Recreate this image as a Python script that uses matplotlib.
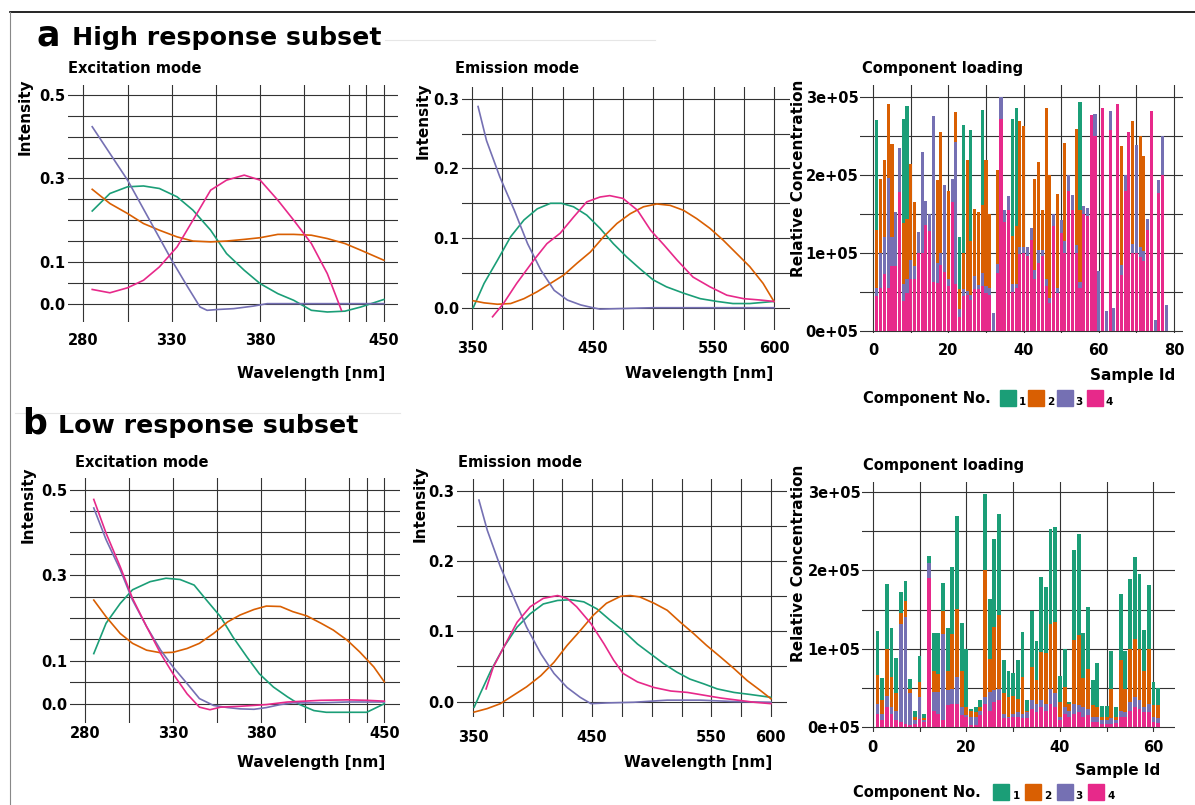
import numpy as np
import matplotlib
matplotlib.use("Agg")
import matplotlib.pyplot as plt
from matplotlib.lines import Line2D
from matplotlib.patches import Rectangle

plt.rcParams['font.family'] = ['DejaVu Sans']
plt.rcParams['font.weight'] = 'bold'

W, H = 1195, 805
colors = ['#1B9E77', '#D95F02', '#7570B3', '#E7298A']

# ---------------- a: high response subset ----------------
# excitation mode
hi_ex_c1_x = [285, 295, 305, 314, 323, 333, 342, 352, 361, 371, 380, 390, 399, 409, 418, 428, 437, 450]
hi_ex_c1_y = [0.222, 0.264, 0.280, 0.282, 0.276, 0.256, 0.224, 0.176, 0.120, 0.080, 0.048, 0.024, 0.008, -0.016, -0.020, -0.018, -0.008, 0.010]
hi_ex_c2_x = [285, 295, 305, 314, 323, 333, 342, 352, 361, 371, 380, 390, 399, 409, 418, 428, 437, 450]
hi_ex_c2_y = [0.274, 0.240, 0.216, 0.192, 0.176, 0.160, 0.150, 0.148, 0.150, 0.154, 0.158, 0.166, 0.166, 0.164, 0.156, 0.144, 0.128, 0.104]
hi_ex_c3_x = [285, 305, 330, 339, 346, 350, 356, 365, 376, 384, 400, 425, 450]
hi_ex_c3_y = [0.424, 0.296, 0.104, 0.040, -0.008, -0.016, -0.014, -0.012, -0.006, 0.000, 0.000, 0.000, 0.000]
hi_ex_c4_x = [285, 295, 305, 314, 323, 333, 342, 352, 361, 371, 380, 390, 399, 409, 418, 426]
hi_ex_c4_y = [0.034, 0.026, 0.038, 0.056, 0.088, 0.136, 0.200, 0.272, 0.296, 0.308, 0.296, 0.248, 0.200, 0.144, 0.072, -0.016]

# emission mode
hi_em_c1_x = [351, 360, 371, 382, 393, 404, 415, 424, 434, 445, 456, 467, 478, 489, 500, 511, 525, 539, 553, 566, 580, 600]
hi_em_c1_y = [0.000, 0.035, 0.068, 0.102, 0.126, 0.142, 0.150, 0.150, 0.145, 0.133, 0.114, 0.092, 0.073, 0.056, 0.040, 0.030, 0.021, 0.013, 0.009, 0.006, 0.006, 0.009]
hi_em_c2_x = [351, 360, 371, 382, 393, 404, 415, 426, 437, 448, 459, 470, 481, 492, 503, 514, 525, 536, 547, 558, 569, 580, 591, 600]
hi_em_c2_y = [0.010, 0.007, 0.005, 0.006, 0.013, 0.023, 0.035, 0.047, 0.064, 0.080, 0.102, 0.121, 0.135, 0.145, 0.149, 0.147, 0.140, 0.128, 0.114, 0.097, 0.078, 0.059, 0.035, 0.009]
hi_em_c3_x = [355, 362, 373, 385, 396, 407, 418, 429, 440, 450, 456, 500, 550, 600]
hi_em_c3_y = [0.289, 0.240, 0.188, 0.140, 0.092, 0.054, 0.025, 0.011, 0.004, 0.000, -0.002, 0.000, 0.000, 0.000]
hi_em_c4_x = [367, 376, 387, 401, 412, 423, 434, 445, 456, 464, 475, 487, 498, 509, 520, 533, 547, 561, 575, 589, 600]
hi_em_c4_y = [-0.013, 0.006, 0.035, 0.068, 0.092, 0.107, 0.130, 0.152, 0.159, 0.161, 0.157, 0.140, 0.111, 0.090, 0.068, 0.044, 0.030, 0.018, 0.013, 0.011, 0.009]

# component loading (x 1e5)
hi_c1 = [1.42, 0, 0, 0, 0, 0, 0, 1.34, 1.46, 0, 0, 0, 0, 0, 0, 0, 0, 0, 0, 0,
         0, 0, 0.67, 1.65, 0, 1.43, 0, 0, 1.22, 0, 0, 0, 0, 0, 0, 0, 1.50, 1.52, 0, 0,
         0, 0, 0, 0, 0, 0, 0, 0, 0, 0, 0, 0, 0, 0, 1.39, 0, 0, 0, 0, 0,
         0, 0, 0, 0, 0, 0, 0, 0, 0, 0, 0, 0, 0, 0, 0, 0, 0, 0]
hi_c2 = [0.74, 0.95, 0.99, 0.96, 1.20, 0, 0, 0.78, 0.77, 1.24, 0.82, 0, 0, 0, 0, 0, 1.07, 1.55, 0, 1.14,
         0, 0.38, 0.25, 0.47, 1.69, 0.69, 0.86, 0.93, 0.88, 1.63, 0.95, 0, 1.21, 0, 0, 0, 0.62, 0.75, 1.62, 1.55,
         0, 0, 1.17, 1.13, 0.51, 2.21, 1.58, 0, 1.21, 0, 1.27, 0, 0, 1.50, 0.93, 0, 0, 0, 0, 0,
         0, 0, 0, 0, 0, 1.52, 0, 0, 1.58, 0, 1.42, 1.23, 0, 0, 0, 0, 0, 0]
hi_c3 = [0.11, 0.45, 0.48, 1.41, 0.37, 0.70, 0.56, 0.22, 0.18, 0.25, 0.17, 0.27, 1.30, 0.31, 0.22, 2.14, 0.26, 0.15, 1.13, 0.09,
         0.30, 1.83, 0.10, 0.09, 0.05, 0.06, 0.17, 0.06, 0.17, 0.09, 0.09, 0.23, 0.12, 0.28, 0.15, 0.18, 0.10, 0.05, 0.10, 0.08,
         0.12, 0.15, 0.12, 0.17, 0.08, 0.09, 0.07, 0.15, 0.07, 0.17, 0.15, 0.20, 0.20, 0.10, 0.07, 0.10, 0.10, 0, 0.29, 0.77,
         0, 0.25, 0.24, 0.29, 0, 0.13, 0.20, 0, 0.12, 1.39, 0.13, 0.12, 0.13, 0, 0.14, 0.17, 0.50, 0.33]
hi_c4 = [0.44, 0.55, 0.73, 0.55, 0.83, 0.83, 1.79, 0.38, 0.48, 0.66, 0.66, 1.00, 1.00, 1.36, 1.28, 0.62, 0.61, 0.85, 0.75, 0.57,
         1.65, 0.60, 0.18, 0.44, 0.46, 0.40, 0.53, 0.53, 0.57, 0.48, 0.46, 0, 0.74, 2.72, 1.40, 1.55, 0.50, 0.55, 0.98, 1.00,
         0.96, 1.17, 0.66, 0.87, 0.96, 0.57, 0.35, 1.35, 0.48, 1.25, 1.00, 1.80, 1.55, 1.00, 0.55, 1.50, 1.48, 2.77, 2.50, 0,
         2.87, 0, 2.58, 0, 2.92, 0.72, 1.80, 2.55, 1.00, 1.00, 0.95, 0.90, 1.30, 2.82, 0, 1.77, 2.00, 0]

# ---------------- b: low response subset ----------------
lo_ex_c1_x = [285, 292, 300, 307, 317, 326, 334, 342, 349, 357, 364, 372, 379, 387, 395, 402, 410, 417, 429, 440, 450]
lo_ex_c1_y = [0.117, 0.188, 0.234, 0.266, 0.285, 0.293, 0.290, 0.277, 0.242, 0.203, 0.156, 0.109, 0.070, 0.039, 0.016, -0.002, -0.016, -0.020, -0.020, -0.020, 0.000]
lo_ex_c2_x = [285, 292, 300, 307, 315, 323, 330, 338, 345, 353, 361, 368, 376, 383, 391, 398, 406, 414, 421, 429, 436, 444, 450]
lo_ex_c2_y = [0.242, 0.203, 0.164, 0.141, 0.125, 0.119, 0.120, 0.129, 0.141, 0.164, 0.191, 0.207, 0.220, 0.228, 0.227, 0.215, 0.205, 0.188, 0.172, 0.148, 0.121, 0.086, 0.051]
lo_ex_c3_x = [285, 292, 300, 307, 315, 323, 330, 338, 345, 353, 361, 368, 376, 383, 391, 398, 414, 429, 450]
lo_ex_c3_y = [0.457, 0.383, 0.313, 0.242, 0.180, 0.125, 0.086, 0.047, 0.012, -0.004, -0.009, -0.012, -0.013, -0.009, -0.002, 0.002, 0.002, 0.004, 0.004]
lo_ex_c4_x = [285, 292, 300, 307, 315, 323, 330, 338, 345, 351, 357, 368, 383, 395, 414, 429, 440, 450]
lo_ex_c4_y = [0.477, 0.398, 0.320, 0.246, 0.180, 0.117, 0.070, 0.023, -0.008, -0.014, -0.008, -0.006, -0.002, 0.004, 0.008, 0.009, 0.008, 0.006]

lo_em_c1_x = [351, 356, 365, 376, 387, 398, 409, 421, 432, 443, 454, 465, 476, 488, 499, 510, 521, 532, 544, 555, 569, 583, 600]
lo_em_c1_y = [-0.008, 0.011, 0.044, 0.078, 0.106, 0.125, 0.139, 0.144, 0.145, 0.142, 0.132, 0.116, 0.101, 0.082, 0.068, 0.054, 0.042, 0.032, 0.025, 0.018, 0.013, 0.010, 0.006]
lo_em_c2_x = [351, 362, 373, 384, 395, 407, 418, 429, 440, 451, 462, 474, 482, 490, 502, 513, 524, 535, 546, 558, 569, 580, 591, 600]
lo_em_c2_y = [-0.015, -0.010, -0.003, 0.009, 0.021, 0.037, 0.056, 0.080, 0.101, 0.123, 0.140, 0.150, 0.151, 0.149, 0.140, 0.130, 0.113, 0.097, 0.080, 0.063, 0.047, 0.030, 0.016, 0.004]
lo_em_c3_x = [355, 362, 373, 384, 395, 407, 418, 429, 440, 449, 462, 485, 513, 541, 569, 600]
lo_em_c3_y = [0.287, 0.244, 0.192, 0.149, 0.106, 0.068, 0.040, 0.020, 0.006, -0.003, -0.002, -0.001, 0.002, 0.002, 0.000, -0.001]
lo_em_c4_x = [361, 367, 376, 387, 398, 409, 421, 429, 437, 449, 460, 468, 476, 488, 502, 516, 530, 544, 558, 572, 586, 600]
lo_em_c4_y = [0.018, 0.049, 0.078, 0.113, 0.135, 0.147, 0.151, 0.147, 0.135, 0.111, 0.082, 0.059, 0.040, 0.028, 0.020, 0.015, 0.013, 0.009, 0.005, 0.002, -0.001, -0.003]

lo_c1 = [0.56, 0.28, 0.83, 0.62, 0.45, 0.27, 0.25, 0.13, 0.08, 0.34, 0.04, 0.09, 0.48, 0.52, 0.36, 0.54, 0.86, 1.18, 0.61, 0.74,
         0.02, 0.07, 0.09, 0.98, 0.77, 1.12, 1.29, 0.42, 0.34, 0.29, 0.49, 0.57, 0.13, 0.71, 0.50, 0.95, 0.85, 1.21, 1.22, 0.33,
         0.49, 0.02, 1.15, 1.30, 0.58, 0.79, 0.32, 0.56, 0.14, 0.14, 0.48, 0.13, 0.85, 0.48, 0.89, 1.05, 0.96, 0.52, 0.82, 0.29, 0.22]
lo_c2 = [0.37, 0.17, 0.60, 0.38, 0.22, 0.13, 0.20, 0.05, 0.04, 0.19, 0.03, 0, 0.27, 0.23, 0.29, 0.25, 0.70, 0.87, 0.46, 0.11,
         0.08, 0.06, 0.05, 1.62, 0.42, 0.81, 0.94, 0.26, 0.25, 0.23, 0.17, 0.47, 0.02, 0.43, 0.30, 0.62, 0.64, 0.83, 0.91, 0.19,
         0.25, 0.09, 0.81, 0.89, 0.36, 0.51, 0.15, 0.13, 0.04, 0.04, 0.38, 0.04, 0.64, 0.30, 0.68, 0.74, 0.66, 0.46, 0.70, 0.15, 0.17]
lo_c3 = [0.12, 0.08, 0.15, 0.09, 0.12, 1.26, 1.37, 0.41, 0.05, 0.28, 0.03, 0.20, 0.24, 0.28, 1.10, 0.19, 0.19, 0.34, 0.11, 0.02,
         0.11, 0.11, 0.06, 0.08, 0.24, 0.15, 0.15, 0.06, 0.02, 0.04, 0.06, 0.06, 0.08, 0.11, 0.11, 0.08, 0.09, 0.19, 0.17, 0.04,
         0.09, 0.08, 0.13, 0.09, 0.13, 0.08, 0.07, 0.07, 0.05, 0.05, 0.07, 0.04, 0.08, 0.06, 0.11, 0.12, 0.11, 0.07, 0.11, 0.07, 0.06]
lo_c4 = [0.17, 0.09, 0.25, 0.17, 0.09, 0.06, 0.04, 0.02, 0.04, 0.10, 0.06, 1.90, 0.21, 0.17, 0.09, 0.28, 0.30, 0.30, 0.15, 0.13,
         0.02, 0.02, 0.15, 0.30, 0.21, 0.32, 0.34, 0.11, 0.11, 0.13, 0.13, 0.11, 0.11, 0.23, 0.19, 0.26, 0.21, 0.30, 0.26, 0.09,
         0.17, 0.13, 0.17, 0.19, 0.13, 0.15, 0.06, 0.06, 0.04, 0.04, 0.04, 0.05, 0.13, 0.13, 0.21, 0.26, 0.23, 0.19, 0.19, 0.06, 0.05]

ex_grid_x = [280, 305, 330, 355, 380, 405, 430, 440, 450]
ex_ticks_x = [280, 330, 380, 450]
ex_ticks_y = [0.0, 0.1, 0.3, 0.5]
em_ticks_x = [350, 450, 550, 600]
em_ticks_y = [0.0, 0.1, 0.2, 0.3]
bar_ticks_y = [0, 1, 2, 3]
bar_labels_y = ['0e+05', '1e+05', '2e+05', '3e+05']

fig = plt.figure(figsize=(W / 100, H / 100), dpi=100)


def ax_at(x0, y0, x1, y1):
    return fig.add_axes([x0 / W, 1 - y1 / H, (x1 - x0) / W, (y1 - y0) / H])


def txt(x, y, s, **kw):
    kw.setdefault('fontweight', 'bold')
    fig.text(x / W, 1 - y / H, s, **kw)


def style(ax, xpad, ypad):
    for s in ax.spines.values():
        s.set_visible(False)
    ax.tick_params(which='both', length=0, labelsize=10.5)
    ax.tick_params(axis='x', pad=xpad)
    ax.tick_params(axis='y', pad=ypad)
    ax.grid(which='both', color='#333333', lw=0.8, zorder=0)
    ax.set_axisbelow(True)
    for lab in ax.get_xticklabels() + ax.get_yticklabels():
        lab.set_fontweight('bold')


def excitation(ax, xs, ys, xlim, ylim, xpad):
    for x, y, c in zip(xs, ys, colors):
        ax.plot(x, y, color=c, lw=1.2, zorder=3)
    ax.set_xlim(*xlim)
    ax.set_ylim(*ylim)
    ax.set_xticks(ex_grid_x, minor=True)
    ax.set_xticks(ex_ticks_x)
    ax.set_yticks(np.arange(0, 0.51, 0.05), minor=True)
    ax.set_yticks(ex_ticks_y)
    ax.set_yticklabels(['0.0', '0.1', '0.3', '0.5'])
    style(ax, xpad, 2)


def emission(ax, xs, ys, xlim, ylim, xpad):
    for x, y, c in zip(xs, ys, colors):
        ax.plot(x, y, color=c, lw=1.2, zorder=3)
    ax.set_xlim(*xlim)
    ax.set_ylim(*ylim)
    ax.set_xticks(np.arange(350, 601, 25), minor=True)
    ax.set_xticks(em_ticks_x)
    ax.set_yticks(np.arange(0, 0.31, 0.05), minor=True)
    ax.set_yticks(em_ticks_y)
    ax.set_yticklabels(['0.0', '0.1', '0.2', '0.3'])
    style(ax, xpad, 2)


def loading(ax, comps, xlim, ylim, xticks, xgrid, xpad):
    ids = np.arange(1, len(comps[0]) + 1)
    bottom = np.zeros(len(ids))
    # stack: component 4 at the bottom, component 1 on top
    for vals, c in zip(comps[::-1], colors[::-1]):
        ax.bar(ids, vals, bottom=bottom, width=0.82, color=c, lw=0, zorder=3)
        bottom = bottom + np.array(vals)
    ax.set_xlim(*xlim)
    ax.set_ylim(*ylim)
    ax.set_xticks(xgrid, minor=True)
    ax.set_xticks(xticks)
    ax.set_yticks(np.arange(0, 3.01, 0.5), minor=True)
    ax.set_yticks(bar_ticks_y)
    ax.set_yticklabels(bar_labels_y)
    style(ax, xpad, 1)


def legend(x0, y, keys_x, labels_x):
    txt(x0, y, 'Component No.', fontsize=10.5, va='center')
    for i, (kx, lx) in enumerate(zip(keys_x, labels_x)):
        fig.patches.append(Rectangle((kx / W, 1 - (y + 8) / H), 16 / W, 16 / H,
                                     transform=fig.transFigure, color=colors[i]))
        txt(lx, y + 4, str(i + 1), fontsize=7.5, va='center')


# ---- row a ----
ax1 = ax_at(68, 85, 398, 322)
excitation(ax1, [hi_ex_c1_x, hi_ex_c2_x, hi_ex_c3_x, hi_ex_c4_x],
           [hi_ex_c1_y, hi_ex_c2_y, hi_ex_c3_y, hi_ex_c4_y], (271.3, 458), (-0.044, 0.524), 8)
ax2 = ax_at(462, 87, 790, 330)
emission(ax2, [hi_em_c1_x, hi_em_c2_x, hi_em_c3_x, hi_em_c4_x],
         [hi_em_c1_y, hi_em_c2_y, hi_em_c3_y, hi_em_c4_y], (341.7, 613.3), (-0.032, 0.317), 8)
ax3 = ax_at(860, 85, 1183, 333)
loading(ax3, [hi_c1, hi_c2, hi_c3, hi_c4], (-3.5, 82.4), (-0.03, 3.16),
        [0, 20, 40, 60, 80], np.arange(0, 81, 10), 7)

# ---- row b ----
ax4 = ax_at(70, 478, 400, 723)
excitation(ax4, [lo_ex_c1_x, lo_ex_c2_x, lo_ex_c3_x, lo_ex_c4_x],
           [lo_ex_c1_y, lo_ex_c2_y, lo_ex_c3_y, lo_ex_c4_y], (271.5, 458.9), (-0.045, 0.527), 2)
ax5 = ax_at(457, 479, 787, 717)
emission(ax5, [lo_em_c1_x, lo_em_c2_x, lo_em_c3_x, lo_em_c4_x],
         [lo_em_c1_y, lo_em_c2_y, lo_em_c3_y, lo_em_c4_y], (336.6, 613.5), (-0.022, 0.317), 9.5)
ax6 = ax_at(862, 482, 1175, 732)
loading(ax6, [lo_c1, lo_c2, lo_c3, lo_c4], (-2.3, 64.6), (-0.064, 3.13),
        [0, 20, 40, 60], np.arange(0, 61, 10), 6)

# ---- texts ----
txt(37, 45, 'a', fontsize=25)
txt(72, 45, 'High response subset', fontsize=18.2)
txt(22, 433, 'b', fontsize=25)
txt(58, 433, 'Low response subset', fontsize=18.2)

for (x, y, s) in [(68, 73, 'Excitation mode'), (455, 73, 'Emission mode'), (862, 73, 'Component loading'),
                  (75, 467, 'Excitation mode'), (458, 467, 'Emission mode'), (863, 470, 'Component loading')]:
    txt(x, y, s, fontsize=10.5)

for (x, y) in [(25, 117), (423, 121), (28, 505), (420, 504)]:
    txt(x, y, 'Intensity', fontsize=11, rotation=90, ha='center', va='center')
for (x, y) in [(798, 178), (798, 563)]:
    txt(x, y, 'Relative Concentration', fontsize=11, rotation=90, ha='center', va='center')

for (x, y) in [(385, 378), (773, 378), (385, 767), (772, 767)]:
    txt(x, y, 'Wavelength [nm]', fontsize=11, ha='right')
txt(1175, 380, 'Sample Id', fontsize=11, ha='right')
txt(1160, 775, 'Sample Id', fontsize=11, ha='right')

legend(863, 398, [1000, 1028, 1057, 1087], [1019, 1047, 1075, 1105])
legend(853, 792, [993, 1025, 1057, 1088], [1013, 1044, 1075, 1108])

# frame lines around the figure
fig.add_artist(Line2D([10 / W, 1], [1 - 12.5 / H, 1 - 12.5 / H], color='black', lw=1.2))
fig.add_artist(Line2D([10 / W, 10 / W], [0, 1 - 12.5 / H], color='#888888', lw=0.8))
fig.add_artist(Line2D([385 / W, 655 / W], [1 - 40 / H, 1 - 40 / H], color='#e6e6e6', lw=0.8))
fig.add_artist(Line2D([15 / W, 400 / W], [1 - 413 / H, 1 - 413 / H], color='#e6e6e6', lw=0.8))

fig.savefig('out.png', dpi=100)
